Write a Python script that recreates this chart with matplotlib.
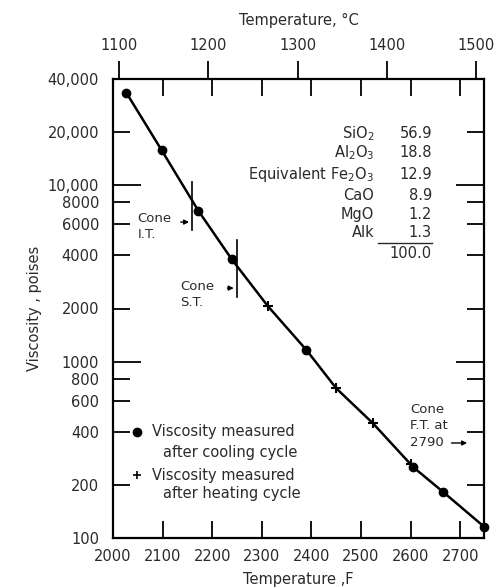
import matplotlib as mpl
import matplotlib.pyplot as plt
import numpy as np
from matplotlib.ticker import FixedLocator, FuncFormatter, NullLocator
mpl.use('Agg')

cool_temp_F = [2027, 2098, 2172, 2239, 2390, 2604, 2665, 2748]
cool_visc = [33400, 15800, 7170, 3815, 1163, 254, 183, 116]
heat_temp_F = [2312, 2450, 2524, 2600]
heat_visc = [2066, 706, 447, 262]

# cone markers
cone_IT_F = 2159
cone_IT_span = [5570, 10400]
cone_ST_F = 2249
cone_ST_span = [2320, 4890]

# composition table
oxides = ["SiO$_2$", "Al$_2$O$_3$", "Equivalent Fe$_2$O$_3$", "CaO", "MgO", "Alk"]
percents = ["56.9", "18.8", "12.9", "8.9", "1.2", "1.3"]
total = "100.0"

y_major = [100, 1000, 10000]
y_minor = [200, 400, 600, 800, 2000, 4000, 6000, 8000, 20000, 40000]
x_ticks_F = [2100, 2200, 2300, 2400, 2500, 2600, 2700]
x_ticks_C = [1100, 1200, 1300, 1400, 1500]

txt = '#2a2a2a'
plt.rcParams['font.family'] = ['DejaVu Sans']
plt.rcParams['font.size'] = 10.5

fig = plt.figure(figsize=(5.04, 5.88), dpi=100)
ax = fig.add_axes([113 / 504, 1 - 538 / 588, 371 / 504, 459 / 588])

# curve through all measured points
all_T = np.array(cool_temp_F + heat_temp_F)
all_V = np.array(cool_visc + heat_visc)
order = np.argsort(all_T)
ax.plot(all_T[order], all_V[order], color='black', lw=1.8, zorder=2)
ax.plot(cool_temp_F, cool_visc, 'o', color='black', ms=6, zorder=3, clip_on=False)
ax.plot(heat_temp_F, heat_visc, '+', color='black', ms=7, mew=1.5, zorder=3)

ax.set_yscale('log')
ax.set_xlim(2000, 2748)
ax.set_ylim(100, 40000)

fmt = FuncFormatter(lambda v, p: f"{int(round(v)):,}" if v >= 10000 else f"{int(round(v))}")
ax.yaxis.set_major_locator(FixedLocator(y_major))
ax.yaxis.set_minor_locator(FixedLocator(y_minor))
ax.yaxis.set_major_formatter(fmt)
ax.yaxis.set_minor_formatter(fmt)
ax.tick_params(axis='y', which='both', direction='in', left=True, right=True,
               width=1.3, pad=10, labelcolor=txt, labelsize=10.5)
ax.tick_params(axis='y', which='major', length=20)
ax.tick_params(axis='y', which='minor', length=12)

ax.xaxis.set_major_locator(FixedLocator([2000] + x_ticks_F))
ax.xaxis.set_minor_locator(NullLocator())
ax.tick_params(axis='x', which='major', direction='in', top=True, bottom=True,
               length=12, width=1.3, pad=8, labelcolor=txt, labelsize=10.5)

for s in ax.spines.values():
    s.set_linewidth(1.6)

secax = ax.secondary_xaxis('top', functions=(lambda f: (f - 32) * 5 / 9,
                                             lambda c: c * 9 / 5 + 32))
secax.set_xticks(x_ticks_C)
secax.tick_params(direction='out', length=13, width=1.3, pad=6,
                  labelcolor=txt, labelsize=10.5)
secax.spines['top'].set_visible(False)
secax.set_xlabel("Temperature, °C", color=txt, labelpad=9)

ax.set_xlabel("Temperature ,F", color=txt, labelpad=6)
ax.set_ylabel("Viscosity , poises", color=txt, labelpad=4)

# cone markers
small = 9.5
ax.plot([cone_IT_F, cone_IT_F], cone_IT_span, color='black', lw=1.2)
ax.plot([cone_ST_F, cone_ST_F], cone_ST_span, color='black', lw=1.2)
arr = dict(arrowstyle='-|>', color='black', lw=1.0, mutation_scale=7)
ax.annotate("", xy=(cone_IT_F, 6180), xytext=(cone_IT_F - 28, 6180), arrowprops=arr)
ax.text(0.066, 0.695, "Cone", transform=ax.transAxes, color=txt, va='center', fontsize=small)
ax.text(0.066, 0.662, "I.T.", transform=ax.transAxes, color=txt, va='center', fontsize=small)
ax.annotate("", xy=(cone_ST_F, 2610), xytext=(cone_ST_F - 24, 2610), arrowprops=arr)
ax.text(0.180, 0.547, "Cone", transform=ax.transAxes, color=txt, va='center', fontsize=small)
ax.text(0.180, 0.514, "S.T.", transform=ax.transAxes, color=txt, va='center', fontsize=small)

ax.text(0.80, 0.281, "Cone", transform=ax.transAxes, color=txt, va='center', fontsize=small)
ax.text(0.80, 0.245, "F.T. at", transform=ax.transAxes, color=txt, va='center', fontsize=small)
ax.text(0.80, 0.207, "2790", transform=ax.transAxes, color=txt, va='center', fontsize=small)
ax.annotate("", xy=(0.962, 0.207), xytext=(0.905, 0.207), xycoords='axes fraction',
            textcoords='axes fraction', arrowprops=arr)

# composition table
rows_y = [0.882, 0.839, 0.791, 0.747, 0.704, 0.665]
for name, pct, yy in zip(oxides, percents, rows_y):
    ax.text(0.704, yy, name, transform=ax.transAxes, ha='right', va='center', color=txt)
    ax.text(0.860, yy, pct, transform=ax.transAxes, ha='right', va='center', color=txt)
ax.plot([0.714, 0.860], [0.643, 0.643], transform=ax.transAxes, color=txt, lw=1.0)
ax.text(0.860, 0.619, total, transform=ax.transAxes, ha='right', va='center', color=txt)

# legend
ax.plot([0.0647], [0.231], 'o', color='black', ms=6, transform=ax.transAxes, clip_on=False)
ax.text(0.105, 0.231, "Viscosity measured", transform=ax.transAxes, va='center', color=txt)
ax.text(0.135, 0.187, "after cooling cycle", transform=ax.transAxes, va='center', color=txt)
ax.plot([0.0647], [0.137], '+', color='black', ms=6, mew=1.2, transform=ax.transAxes, clip_on=False)
ax.text(0.105, 0.137, "Viscosity measured", transform=ax.transAxes, va='center', color=txt)
ax.text(0.135, 0.098, "after heating cycle", transform=ax.transAxes, va='center', color=txt)

fig.savefig('out.png', dpi=100)
